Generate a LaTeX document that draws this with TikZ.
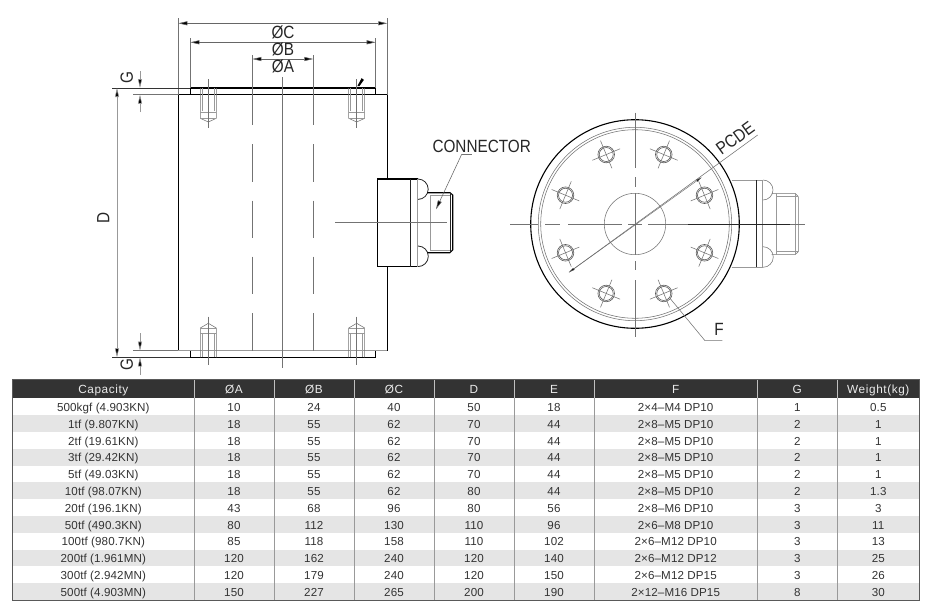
\documentclass[tikz,border=0pt]{standalone}
\usepackage{fontspec}
\setmainfont{Liberation Sans}
\newfontfamily\drawfont[FakeStretch=0.865]{Liberation Sans}
\newfontfamily\headfont[LetterSpace=5]{Liberation Sans}
\newfontfamily\bodyfont[LetterSpace=1]{Liberation Sans}
\usetikzlibrary{calc,arrows.meta}
\definecolor{hdr}{HTML}{333333}
\definecolor{rowgray}{HTML}{E5E5E5}
\definecolor{txt}{HTML}{333333}
\tikzset{
  thin line/.style={line width=.55pt,draw=black!55},
  light line/.style={line width=.55pt,draw=black!40},
  heavy line/.style={line width=1.1pt,draw=black},
  mid line/.style={line width=.8pt,draw=black!85},
  dim/.style={line width=.55pt,draw=black!60,{Triangle[length=9pt,width=4pt,fill=black]}-{Triangle[length=9pt,width=4pt,fill=black]}},
  dimone/.style={line width=.55pt,draw=black!60,-{Triangle[length=9pt,width=4pt,fill=black]}},
  lab/.style={font=\drawfont\fontsize{17.7}{18}\selectfont,text=black!85,inner sep=0pt},
  cell/.style={font=\bodyfont\fontsize{11.6}{13}\selectfont,text=txt,inner sep=0pt,anchor=center,text height=8.3pt,text depth=0pt},
  head/.style={font=\headfont\fontsize{11.8}{13}\selectfont,text=white!92!black,inner sep=0pt,anchor=center,text height=8.3pt,text depth=0pt},
}
\newcommand\tabrow[9]{%
  \pgfmathsetmacro\ry{407.3+(\rowno-1)*16.8}%
  \node[cell] (a\rowno) at (103.3,\ry) {#1};
  \node[cell] (b\rowno) at (234,\ry) {#2};
  \node[cell] (c\rowno) at (314,\ry) {#3};
  \node[cell] (d\rowno) at (394,\ry) {#4};
  \node[cell] (e\rowno) at (474,\ry) {#5};
  \node[cell] (f\rowno) at (554,\ry) {#6};
  \node[cell] (g\rowno) at (675.7,\ry) {#7};
  \node[cell] (h\rowno) at (797.3,\ry) {#8};
  \node[cell] (i\rowno) at (878.3,\ry) {#9};
  \pgfmathtruncatemacro\nextrow{\rowno+1}\global\let\rowno\nextrow
}
\begin{document}
\begin{tikzpicture}[x=1pt,y=-1pt]
\useasboundingbox[fill=white] (0,0) rectangle (927,606);

% ---------- side view ----------
% body
\draw[heavy line] (387.3,179) -- (387.3,94.7) -- (178.3,94.7) -- (178.3,350.7) -- (190.3,350.7);
\draw[heavy line] (387.3,266.7) -- (387.3,350.7) -- (375.7,350.7);
\draw[heavy line] (190.3,94.7) -- (190.3,88) -- (375.7,88) -- (375.7,94.7);
\draw[heavy line] (190.3,350.7) -- (190.3,357.3) -- (375.7,357.3) -- (375.7,350.7);
\draw[light line] (178.3,350.7) -- (387.3,350.7);
% centre and hidden lines
\draw[thin line] (282.3,77.3) -- (282.3,368);
\foreach \xx in {252.3,313.3}{
  \draw[thin line] (\xx,55) -- (\xx,125);
  \draw[thin line] (\xx,144.3) -- (\xx,181.7);
  \draw[thin line] (\xx,200.7) -- (\xx,237.7);
  \draw[thin line] (\xx,256.7) -- (\xx,294);
  \draw[thin line] (\xx,313.3) -- (\xx,350.7);
}
% threaded holes
\foreach \cx in {208.3,356.7}{
  \draw[thin line] (\cx-8,88) -- (\cx-8,118.3) -- (\cx,122) -- (\cx+8,118.3) -- (\cx+8,88);
  \draw[light line] (\cx-6,88) -- (\cx-6,110.7) (\cx+6,110.7) -- (\cx+6,88);
  \draw[light line] (\cx-8,112) -- (\cx+8,112);
  \draw[light line] (\cx-8,118.3) -- (\cx+8,118.3);
  \draw[thin line] (\cx,79) -- (\cx,128);
  \draw[thin line] (\cx-8,357.3) -- (\cx-8,328) -- (\cx,323.3) -- (\cx+8,328) -- (\cx+8,357.3);
  \draw[light line] (\cx-6,357.3) -- (\cx-6,333) (\cx+6,333) -- (\cx+6,357.3);
  \draw[light line] (\cx-8,333) -- (\cx+8,333);
  \draw[light line] (\cx-8,328) -- (\cx+8,328);
  \draw[thin line] (\cx,316.7) -- (\cx,365);
}
\fill (361.7,78) -- (357.4,86) -- (359.5,86) -- (363.8,80) -- cycle;
% connector
\draw[heavy line] (418,179) -- (377.3,179) -- (377.3,266.7) -- (418,266.7);
\draw[mid line] (418,179) arc[start angle=-90,end angle=90,radius=10.2];
\draw[mid line] (418,246) arc[start angle=-90,end angle=90,radius=10.3];
\draw[mid line] (410.7,179) -- (410.7,266.7);
\draw[light line] (417.3,179) -- (417.3,266.7);
\draw[heavy line] (427.3,192.7) -- (450,192.7) -- (452.7,195) -- (452.7,250) -- (450,252.7) -- (427.3,252.7);
\draw[mid line] (450,192.7) -- (450,252.7);
\draw[light line] (430,195) -- (450,195) (430,250) -- (450,250) (430,195) -- (430,250);
\draw[thin line] (335,222.7) -- (446.7,222.7);

% dimensions
\draw[thin line] (178.3,18) -- (178.3,94.7) (387.3,18) -- (387.3,94.7);
\draw[thin line] (190.3,38.3) -- (190.3,88) (375.7,38.3) -- (375.7,88);
\draw[dim] (178.3,23.3) -- (387.3,23.3);
\draw[dim] (190.3,42.3) -- (375.7,42.3);
\draw[dim] (252.3,59) -- (313.3,59);
\node[lab] (oc) at (283,32.5) {ØC};
\node[lab] (ob) at (283,49.5) {ØB};
\node[lab] (oa) at (283,66.5) {ØA};
\draw[line width=.8pt,draw=black!80] (112,88) -- (190.3,88);
\draw[thin line] (133.3,94.7) -- (178.3,94.7);
\draw[line width=.8pt,draw=black!80] (112,357.3) -- (190.3,357.3);
\draw[thin line] (133.3,350.7) -- (178.3,350.7);
\draw[dim,draw=black!40] (117,88) -- (117,357.3);
\draw[dimone,draw=black!40] (140,71) -- (140,88);
\draw[dimone,draw=black!40] (140,112) -- (140,94.7);
\draw[dimone,draw=black!40] (140,333) -- (140,350.7);
\draw[dimone,draw=black!40] (140,375) -- (140,357.3);
\node[lab,rotate=90] (gt) at (126.7,78) {G};
\node[lab,rotate=90] (gb) at (126.7,365) {G};
\node[lab,rotate=90] (dd) at (103.3,217.7) {D};
\node[lab] (conn) at (481.7,146.5) {CONNECTOR};
\draw[thin line] (471.7,154.3) -- (461.7,154.3);
\draw[dimone] (461.7,154.3) -- (436,209.3);

% ---------- top view ----------
\coordinate (ctr) at (635,224);
% connector behind
\draw[light line] (731.7,180) -- (763,180) (731.7,267.3) -- (763,267.3);
\draw[mid line] (756,180) -- (756,267.3);
\draw[light line] (762.3,180) -- (762.3,267.3);
\draw[thin line] (763,180) arc[start angle=-90,end angle=90,radius=10];
\draw[thin line] (763,246.7) arc[start angle=-90,end angle=90,radius=10.3];
\draw[thin line] (771.7,193.3) -- (795,193.3) -- (798.3,196.7) -- (798.3,251.7) -- (795,254.7) -- (771.7,254.7);
\draw[light line] (776.7,193.3) -- (776.7,254.7) (795,193.3) -- (795,254.7) (776.7,196.7) -- (798.3,196.7) (776.7,251.7) -- (798.3,251.7);
% circles
\draw[heavy line,fill=white] (ctr) circle[radius=104.3];
\draw[thin line] (ctr) circle[radius=96.7];
\draw[thin line] (ctr) circle[radius=94.3];
\draw[thin line] (ctr) circle[radius=30.7];
% holes
\foreach \ang in {22.5,67.5,112.5,157.5,202.5,247.5,292.5,337.5}{
  \coordinate (hole) at ($(ctr)+(\ang:75.2)$);
  \draw[line width=.6pt,draw=black!65] (hole) circle[radius=8.3];
  \draw[line width=.6pt,draw=black!65] (hole) circle[radius=7];
  \draw[thin line] ($(hole)+(\ang:15)$) -- ($(hole)+(\ang+180:15)$);
  \draw[thin line] ($(hole)+(\ang+90:15)$) -- ($(hole)+(\ang+270:15)$);
}
% centre lines
\foreach \xa/\xb in {510/538,545/560,568/622,628/642,648/690}{
  \draw[thin line] (\xa,224) -- (\xb,224);
}
\draw[mid line,line width=1pt] (688,224) -- (790,224);
\draw[thin line] (790,224) -- (805,224);
\foreach \ya/\yb in {112.7/168.3,177.3/187.3,193/255,261/270,280/336.7}{
  \draw[thin line] (635,\ya) -- (635,\yb);
}
% PCD dimension
\coordinate (pa) at (569,272.3);
\coordinate (pb) at (701.7,177.3);
\coordinate (pc) at (757.7,135);
\draw[thin line] (pa) -- (pc);
\draw[line width=.4pt,draw=black!60,{Triangle[length=6pt,width=2.4pt,fill=black]}-{Triangle[length=6pt,width=2.4pt,fill=black]}] (pa) -- (pb);
\node[lab,rotate=36] (pcde) at (735.2,138.5) {PCDE};
% F leader
\node[lab] (ff) at (719,329) {F};
\draw[thin line] (670,298.3) -- (705,340.7) -- (722.3,340.7);

% ---------- table ----------
\fill[hdr] (12.7,379.3) rectangle (919.3,398.3);
\foreach \rr in {2,4,...,12}{
  \fill[rowgray] (12.7,{398.3+(\rr-1)*16.8}) rectangle (919.3,{398.3+\rr*16.8});
}
\foreach \sx in {194,274,354,434,514,594,757.3,837.3}{
  \draw[line width=1pt,draw=black!40] (\sx,398.3) -- (\sx,600);
  \draw[line width=1pt,draw=black!25] (\sx,379.3) -- (\sx,398.3);
}
\draw[line width=1pt,draw=black!65] (12.7,379.3) rectangle (919.3,600);
\node[head] (h1) at (103.3,389.3) {Capacity};
\node[head] (h2) at (234,389.3) {ØA};
\node[head] (h3) at (314,389.3) {ØB};
\node[head] (h4) at (394,389.3) {ØC};
\node[head] (h5) at (474,389.3) {D};
\node[head] (h6) at (554,389.3) {E};
\node[head] (h7) at (675.7,389.3) {F};
\node[head] (h8) at (797.3,389.3) {G};
\node[head] (h9) at (878.3,389.3) {Weight(kg)};
\gdef\rowno{1}
\tabrow{500kgf (4.903KN)}{10}{24}{40}{50}{18}{2×4–M4 DP10}{1}{0.5}
\tabrow{1tf (9.807KN)}{18}{55}{62}{70}{44}{2×8–M5 DP10}{2}{1}
\tabrow{2tf (19.61KN)}{18}{55}{62}{70}{44}{2×8–M5 DP10}{2}{1}
\tabrow{3tf (29.42KN)}{18}{55}{62}{70}{44}{2×8–M5 DP10}{2}{1}
\tabrow{5tf (49.03KN)}{18}{55}{62}{70}{44}{2×8–M5 DP10}{2}{1}
\tabrow{10tf (98.07KN)}{18}{55}{62}{80}{44}{2×8–M5 DP10}{2}{1.3}
\tabrow{20tf (196.1KN)}{43}{68}{96}{80}{56}{2×8–M6 DP10}{3}{3}
\tabrow{50tf (490.3KN)}{80}{112}{130}{110}{96}{2×6–M8 DP10}{3}{11}
\tabrow{100tf (980.7KN)}{85}{118}{158}{110}{102}{2×6–M12 DP10}{3}{13}
\tabrow{200tf (1.961MN)}{120}{162}{240}{120}{140}{2×6–M12 DP12}{3}{25}
\tabrow{300tf (2.942MN)}{120}{179}{240}{120}{150}{2×6–M12 DP15}{3}{26}
\tabrow{500tf (4.903MN)}{150}{227}{265}{200}{190}{2×12–M16 DP15}{8}{30}
\end{tikzpicture}
\end{document}
